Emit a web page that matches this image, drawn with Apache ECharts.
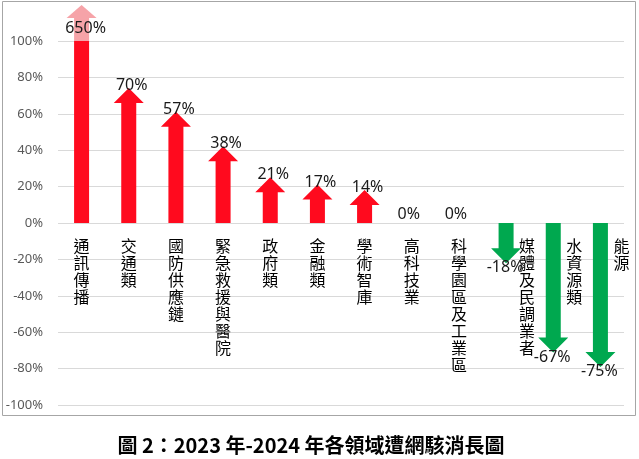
<!DOCTYPE html>
<html>
<head>
<meta charset="utf-8">
<script src="https://cdn.jsdelivr.net/npm/echarts@6/dist/echarts.min.js"></script>
<style>
html,body{margin:0;padding:0;background:#fff;}
#chart{width:639px;height:459px;}
</style>
</head>
<body>
<div id="chart"></div>
<script>
var categories = ['通訊傳播','交通類','國防供應鏈','緊急救援與醫院','政府類','金融類','學術智庫','高科技業','科學園區及工業區','媒體及民調業者','水資源類','能源'];
var changePct = [650, 70, 57, 38, 21, 17, 14, 0, 0, -18, -67, -75];
var yTicks = [-100, -80, -60, -40, -20, 0, 20, 40, 60, 80, 100];
var titleText = '圖 2：2023 年-2024 年各領域遭網駭消長圖';

var RED = '#ff0a1e', PALE = '#f6a3a8', GREEN = '#00a84f';
var yMin = yTicks[0], yMax = yTicks[yTicks.length - 1];

function renderItem(params, api) {
  var idx = api.value(0);
  var v = api.value(1);
  var base = api.coord([idx, 0]);
  var x = base[0], y0 = base[1];
  var vc = Math.max(Math.min(v, yMax), yMin);
  var yv = api.coord([idx, vc])[1];
  var sw = 7.5, hw = 15, hh = 7.5;
  var children = [];
  var labelFont = { fontSize: 16, fontFamily: 'Noto Sans', fill: '#1a1a1a' };
  if (v > yMax) {
    children.push({ type: 'rect', shape: { x: x - sw, y: yv, width: sw * 2, height: y0 - yv }, style: { fill: RED } });
    children.push({ type: 'rect', shape: { x: x - sw, y: yv - 23, width: sw * 2, height: 23 }, style: { fill: PALE } });
    children.push({ type: 'polygon', shape: { points: [[x - hw, yv - 23], [x, yv - 36], [x + hw, yv - 23]] }, style: { fill: PALE } });
    children.push({ type: 'text', style: Object.assign({ text: v + '%', x: x + 4, y: yv - 13, align: 'center', verticalAlign: 'middle' }, labelFont) });
  } else if (v > 0) {
    children.push({ type: 'polygon', shape: { points: [
      [x - sw, y0], [x - sw, yv + hh], [x - hw, yv + hh], [x, yv - hh], [x + hw, yv + hh], [x + sw, yv + hh], [x + sw, y0]
    ] }, style: { fill: RED } });
    children.push({ type: 'text', style: Object.assign({ text: v + '%', x: x + 3, y: yv - 10, align: 'center', verticalAlign: 'middle' }, labelFont) });
  } else if (v < 0) {
    children.push({ type: 'polygon', shape: { points: [
      [x - sw, y0], [x - sw, yv - hh], [x - hw, yv - hh], [x, yv + hh], [x + hw, yv - hh], [x + sw, yv - hh], [x + sw, y0]
    ] }, style: { fill: GREEN } });
    children.push({ type: 'text', style: Object.assign({ text: v + '%', x: x - 1, y: yv + 12, align: 'center', verticalAlign: 'middle' }, labelFont) });
  } else {
    children.push({ type: 'text', style: Object.assign({ text: v + '%', x: x - 3, y: y0 - 9, align: 'center', verticalAlign: 'middle' }, labelFont) });
  }
  var name = categories[idx];
  children.push({ type: 'text', style: {
    text: name.split('').join('\n'),
    x: v < 0 ? x + 21 : x, y: y0 + 14,
    align: 'center', verticalAlign: 'top',
    fontSize: 16, lineHeight: 17, fontFamily: 'Noto Sans CJK TC', fill: '#000'
  } });
  return { type: 'group', children: children };
}

var chart = echarts.init(document.getElementById('chart'), null, { renderer: 'canvas' });
chart.setOption({
  animation: false,
  backgroundColor: '#fff',
  grid: { left: 58, right: 15, top: 41, bottom: 54, containLabel: false },
  xAxis: {
    type: 'category', data: categories,
    axisLine: { show: false }, axisTick: { show: false }, axisLabel: { show: false }, splitLine: { show: false }
  },
  yAxis: {
    type: 'value', min: yMin, max: yMax, interval: 20,
    axisLine: { show: false }, axisTick: { show: false },
    axisLabel: { formatter: '{value}%', color: '#595959', fontSize: 13, fontFamily: 'Noto Sans', margin: 15 },
    splitLine: { lineStyle: { color: '#d9d9d9', width: 1 } }
  },
  series: [{
    type: 'custom',
    clip: false,
    renderItem: renderItem,
    data: changePct.map(function (v, i) { return [i, v]; }),
    z: 3
  }],
  graphic: [
    { type: 'rect', shape: { x: 2.5, y: 1.5, width: 633, height: 414 }, style: { fill: 'none', stroke: '#a6a6a6', lineWidth: 1 }, z: -1 },
    { type: 'text', x: 311, y: 445, style: { text: titleText, align: 'center', verticalAlign: 'middle', fontSize: 20, fontWeight: 'bold', fontFamily: 'Noto Sans CJK TC', fill: '#000' } }
  ]
});
</script>
</body>
</html>
